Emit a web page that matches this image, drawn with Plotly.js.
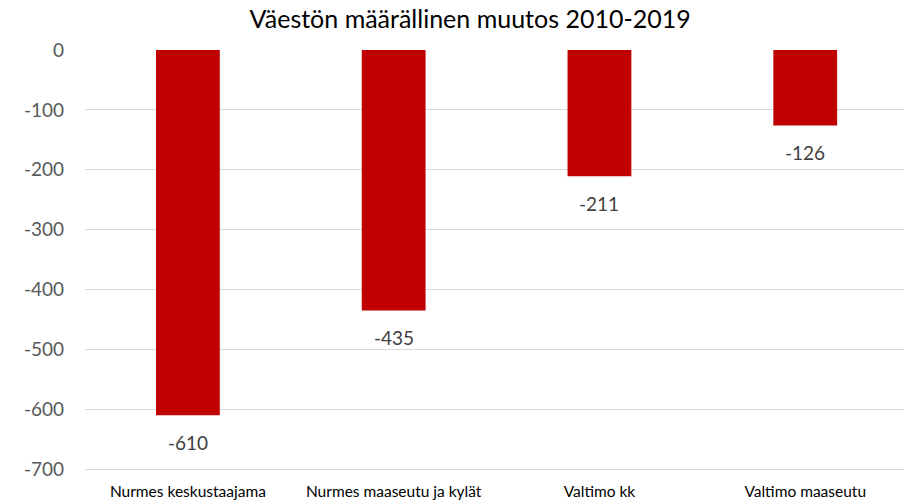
<!DOCTYPE html>
<html><head><meta charset="utf-8">
<script src="https://cdn.plot.ly/plotly-3.0.1.min.js"></script>
<style>html,body{margin:0;padding:0;background:#fff}</style>
</head><body><div id="chart" style="width:904px;height:504px"></div>
<script>
const categories = ["Nurmes keskustaajama", "Nurmes maaseutu ja kylät", "Valtimo kk", "Valtimo maaseutu"];
const values = [-610, -435, -211, -126];
const tickVals = [0, -100, -200, -300, -400, -500, -600, -700];

const font = "Lato, 'Open Sans', sans-serif";
const trace = {
  type: "bar", x: categories, y: values,
  marker: {color: "#C00000"},
  hoverinfo: "x+y"
};
const annotations = categories.map((c, i) => ({
  x: c, y: values[i], xref: "x", yref: "y", text: String(values[i]),
  showarrow: false, yshift: -27, font: {family: font, size: 19, color: "#404040"}
}));
const layout = {
  width: 904, height: 504,
  margin: {l: 85, r: 0, t: 50, b: 35},
  paper_bgcolor: "#fff", plot_bgcolor: "#fff",
  bargap: 0.69,
  showlegend: false,
  title: {text: "Väestön määrällinen muutos 2010-2019", x: 0.52, xref: "container", xanchor: "center", y: 0.98, yref: "container",
          font: {family: font, size: 25, color: "#000"}},
  xaxis: {type: "category", range: [-0.5, 3.48], showgrid: false, zeroline: false, showline: true, linecolor: "#D9D9D9", linewidth: 1,
          tickfont: {family: font, size: 15.5, color: "#000"}, ticks: "", ticklabelstandoff: 8},
  yaxis: {range: [-700, 0], tickvals: tickVals, ticktext: tickVals.map(String), showgrid: true, gridcolor: "#D9D9D9", gridwidth: 1,
          zeroline: false, showline: false, ticks: "", ticklabelstandoff: 20,
          tickfont: {family: font, size: 19, color: "#595959"}},
  annotations: annotations
};
Plotly.newPlot("chart", [trace], layout, {displayModeBar: false});
</script></body></html>
